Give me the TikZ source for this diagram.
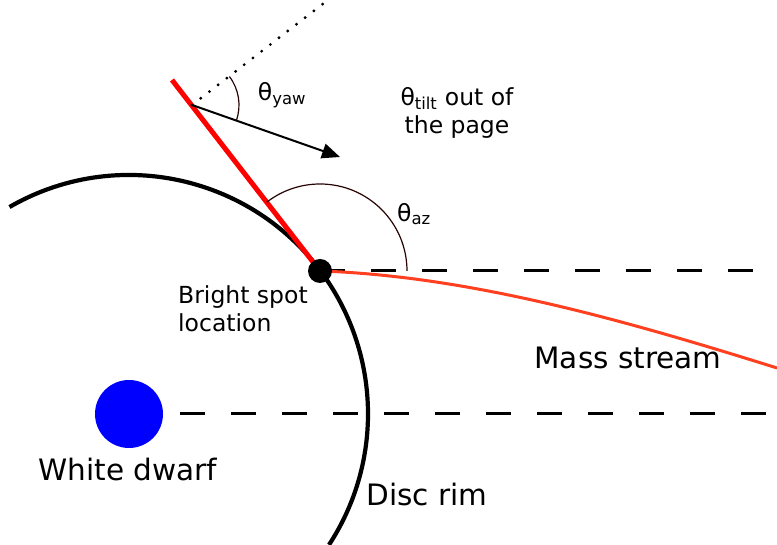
\documentclass[tikz,border=0pt]{standalone}
\usepackage{fontspec}
\setmainfont{DejaVu Sans}
\usetikzlibrary{arrows.meta, positioning, calc}
\definecolor{streamcolor}{RGB}{255,64,32}
\definecolor{arccolor}{RGB}{40,5,5}
\tikzset{
  biglbl/.style   = {font=\fontsize{29.5}{34}\selectfont, inner sep=0pt},
  smalllbl/.style = {font=\fontsize{23.5}{28}\selectfont, inner sep=0pt},
  dashline/.style = {line width=3pt, dash pattern=on 25pt off 26pt},
  anglearc/.style = {line width=1.2pt, color=arccolor},
}

\begin{document}
\begin{tikzpicture}[
    x=1pt, y=1pt,
    dotline/.style={line width=3.2pt, line cap=round, dash pattern=on 0pt off 11pt},
    dirarrow/.style={-{Triangle[length=18pt, width=15pt]}, line width=2pt},
    blob/.style={circle, inner sep=0pt}
]
\useasboundingbox (0,0) rectangle (777,545);
\coordinate (wd) at (129,131);
\coordinate (spot) at (320,274);
\coordinate (redend) at (172,465);
\coordinate (yaw) at (192,440);
\coordinate (dotend) at (328,545);
\coordinate (arrend) at (340,388);
\coordinate (upright) at (777,274);
\coordinate (lowright) at (777,131);
\coordinate (streamend) at (777,177);

% reference lines
\draw[dashline] (wd) -- (lowright);
\draw[dashline] (spot) -- (upright);

% disc rim and white dwarf
\draw[line width=4.2pt] ($(wd)+(120:239)$) arc[start angle=120, end angle=-33.2, radius=239];
\node[blob, fill=blue, minimum size=68pt] (dwarf) at (wd) {};

% stream and bright spot geometry
\draw[streamcolor, line width=3pt] (spot) .. controls +(150,-5) and +(-150,47) .. (streamend);
\draw[red, line width=5pt] (redend) -- (spot);
\draw[dotline] (yaw) -- (dotend);
\draw[dirarrow] (yaw) -- (arrend);
\draw[anglearc] ($(yaw)+(-19.4:47)$) arc[start angle=-19.4, end angle=37.3, radius=47];
\draw[anglearc] ($(spot)+(0:87)$) arc[start angle=0, end angle=127.8, radius=87];
\node[blob, fill=black, minimum size=24pt] (bspot) at (spot) {};

% labels
\node[smalllbl] (yawlbl) at (282,450) {θ\textsubscript{yaw}};
\node[smalllbl] (azlbl) at (414,331) {θ\textsubscript{az}};
\node[smalllbl, align=center] (tiltlbl) at (457,432) {θ\textsubscript{tilt} out of\\the page};
\node[smalllbl, align=left, anchor=west] (spotlbl) at (178,236) {Bright spot\\location};
\node[biglbl] (dwarflbl) at (128,75) {White dwarf};
\node[biglbl] (rimlbl) at (427,50) {Disc rim};
\node[biglbl] (streamlbl) at (628,187) {Mass stream};
\end{tikzpicture}
\end{document}
